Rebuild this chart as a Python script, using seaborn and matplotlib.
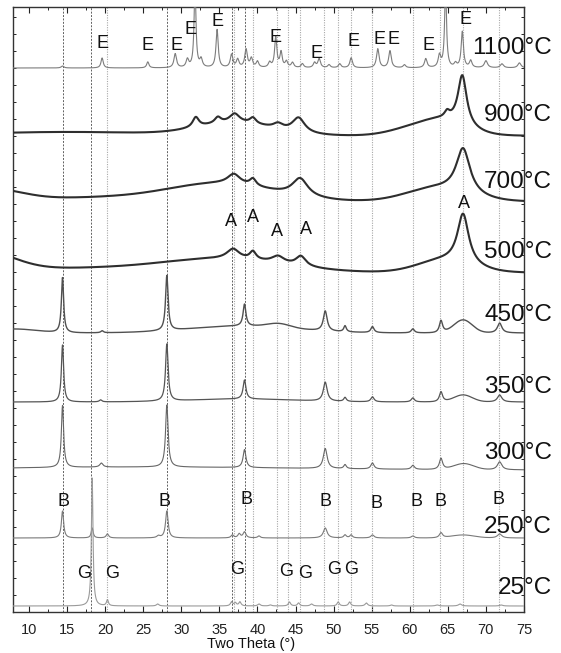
import numpy as np
import pandas as pd
import matplotlib
matplotlib.use("Agg")
import matplotlib.pyplot as plt
from matplotlib.ticker import MultipleLocator
import seaborn as sns

# ---------------- data ----------------
temps = ["1100°C", "900°C", "700°C", "500°C", "450°C", "350°C", "300°C", "250°C", "25°C"]
offsets = [544, 476, 410, 339, 279, 210, 142, 74, 6]
label_y = [564, 497, 430, 360, 297, 225, 159, 85, 24]
colors = ["#7d7d7d", "#2e2e2e", "#2e2e2e", "#2e2e2e", "#505050", "#555555", "#666666", "#7a7a7a", "#9a9a9a"]
widths = [0.8, 1.5, 1.5, 1.5, 1.0, 0.9, 0.8, 0.8, 0.8]

# sharp reflections: (2theta, height, fwhm)
peaks_1100 = [(14.4, 2, 0.4), (19.6, 10, 0.35), (25.6, 6, 0.35), (29.2, 14, 0.4), (30.8, 8, 0.4),
              (31.8, 80, 0.3), (32.6, 8, 0.4), (34.7, 38, 0.35), (36.6, 13, 0.4), (37.4, 8, 0.4),
              (38.5, 18, 0.4), (39.2, 9, 0.4), (40.0, 6, 0.4), (41.6, 5, 0.4), (42.4, 30, 0.35),
              (43.1, 15, 0.35), (43.8, 6, 0.4), (44.6, 5, 0.4), (45.9, 4, 0.4), (47.5, 5, 0.4),
              (48.1, 9, 0.4), (49.4, 3, 0.4), (50.8, 4, 0.4), (52.3, 10, 0.4), (55.8, 19, 0.4),
              (57.4, 17, 0.4), (59.3, 3, 0.4), (62.1, 9, 0.4), (63.9, 12, 0.4), (64.7, 80, 0.3),
              (66.0, 4, 0.4), (66.9, 36, 0.35), (68.0, 7, 0.4), (70.0, 7, 0.5), (72.1, 4, 0.5),
              (74.4, 5, 0.5)]
peaks_900 = [(31.9, 10, 1.0), (34.8, 6, 1.0), (37.0, 9, 1.6), (39.4, 6, 1.0), (42.7, 5, 1.5),
             (45.4, 15, 2.0), (64.9, 6, 0.8), (66.9, 50, 1.4)]
peaks_700 = [(36.9, 10, 2.0), (39.4, 7, 1.0), (45.6, 18, 2.5), (67.0, 45, 2.2)]
peaks_500 = [(36.8, 10, 2.0), (39.4, 8, 1.0), (42.7, 7, 2.0), (45.7, 10, 1.6), (67.0, 50, 1.8)]
peaks_450 = [(14.4, 55, 0.35), (19.6, 2, 0.4), (28.1, 55, 0.4), (38.3, 22, 0.45), (48.9, 20, 0.6),
             (51.5, 6, 0.4), (55.1, 6, 0.5), (60.4, 4, 0.5), (64.1, 12, 0.5), (71.8, 10, 0.7)]
peaks_350 = [(14.4, 57, 0.35), (19.4, 2, 0.4), (28.1, 57, 0.4), (38.3, 19, 0.45), (48.9, 19, 0.6),
             (51.5, 4, 0.4), (55.1, 5, 0.5), (60.4, 4, 0.5), (64.1, 10, 0.5), (71.8, 7, 0.7)]
peaks_300 = [(14.4, 62, 0.35), (19.5, 4, 0.5), (28.1, 62, 0.4), (38.3, 18, 0.45), (48.9, 20, 0.6),
             (51.5, 4, 0.4), (55.1, 6, 0.5), (60.4, 4, 0.5), (64.1, 11, 0.5), (71.8, 8, 0.7)]
peaks_250 = [(14.4, 27, 0.35), (18.3, 10, 0.3), (20.3, 4, 0.4), (27.0, 2, 0.5), (28.1, 27, 0.4),
             (36.7, 3, 0.4), (37.6, 4, 0.4), (38.3, 6, 0.45), (40.2, 2, 0.4), (48.9, 10, 0.6),
             (51.5, 3, 0.4), (52.3, 3, 0.4), (55.1, 3, 0.5), (60.4, 2, 0.5), (64.1, 5, 0.5),
             (71.8, 4, 0.7)]
peaks_25 = [(18.3, 128, 0.25), (20.3, 6, 0.3), (26.9, 2, 0.4), (36.6, 4, 0.35), (37.1, 3, 0.35),
            (37.7, 4, 0.35), (40.2, 2, 0.4), (41.7, 1, 0.4), (44.2, 4, 0.35), (45.4, 3, 0.35),
            (47.1, 2, 0.4), (50.6, 4, 0.35), (52.1, 4, 0.35), (54.3, 3, 0.4), (57.6, 1, 0.4),
            (63.6, 1, 0.5), (66.6, 2, 0.5), (72.0, 1, 0.5)]

# broad amorphous humps: (2theta centre, height, sigma)
humps_1100 = []
humps_900 = [(15, 4, 12), (37, 12, 5), (60, 6, 3), (64.5, 14, 3)]
humps_700 = [(5, 12, 4), (18, 4, 8), (35, 18, 7), (63.5, 13, 4)]
humps_500 = [(4, 20, 4), (15, 4, 8), (35, 14, 8.5), (64.5, 12, 3.5)]
humps_450 = [(8, 4, 3), (38, 7, 7), (42.8, 4, 1.5), (67.0, 13, 1.2)]
humps_350 = [(38, 3, 7), (67.0, 7, 1.2)]
humps_300 = [(25, 3, 20), (67.1, 6, 1.3)]
humps_250 = [(67.0, 3, 1.5)]
humps_25 = []

all_peaks = [peaks_1100, peaks_900, peaks_700, peaks_500, peaks_450, peaks_350, peaks_300, peaks_250, peaks_25]
all_humps = [humps_1100, humps_900, humps_700, humps_500, humps_450, humps_350, humps_300, humps_250, humps_25]

# phase marker labels: (2theta, vertical position)
E_pos = [19.7, 25.6, 29.4, 31.2, 34.8, 42.4, 47.8, 52.6, 56.0, 57.8, 62.4, 67.3]
E_y = [569, 566, 567, 582, 590, 575, 559, 570, 573, 573, 567, 593]
A_pos = [36.5, 39.4, 42.6, 46.4, 67.1]
A_y = [391, 395, 380, 383, 409]
B_pos = [14.5, 27.8, 38.5, 49.0, 55.6, 60.9, 64.1, 71.6]
B_y = [110, 110, 112, 110, 108, 110, 110, 112]
G_pos = [17.3, 20.9, 37.3, 43.8, 46.2, 50.1, 52.3]
G_y = [39, 39, 42, 40, 39, 43, 43]

ref_dark = [14.4, 18.1, 28.1, 36.7, 38.3]
ref_light = [20.3, 36.9, 39.4, 42.6, 44.0, 45.6, 48.8, 50.6, 52.3, 55.1, 60.4, 64.0, 67.0, 71.7]

# ---------------- build patterns ----------------
tt = np.arange(7.9, 75.0001, 0.02)
frames = []
for name, off, pk, hm in zip(temps, offsets, all_peaks, all_humps):
    y = np.full_like(tt, float(off))
    for c, h, w in pk:
        y += h / (1.0 + ((tt - c) / (w / 2.0)) ** 2)
    for c, h, s in hm:
        y += h * np.exp(-((tt - c) ** 2) / (2 * s * s))
    frames.append(pd.DataFrame({"tt": tt, "I": y, "T": name}))
df = pd.concat(frames, ignore_index=True)

# ---------------- plot ----------------
sns.set_style("ticks")
plt.rcParams["font.family"] = ["Liberation Sans", "DejaVu Sans"]

fig = plt.figure(figsize=(5.61, 6.53), dpi=100)
ax = fig.add_axes([13 / 561, 41 / 653, 511 / 561, 605 / 653])

for xv in ref_light:
    ax.axvline(xv, color="#a8a8a8", lw=0.8, ls=(0, (1, 1.2)), zorder=1)
for xv in ref_dark:
    ax.axvline(xv, color="#606060", lw=0.7, ls=(0, (2, 1.5)), zorder=1)

for name, col, lw in zip(temps, colors, widths):
    sub = df[df["T"] == name]
    sns.lineplot(data=sub, x="tt", y="I", color=col, lw=lw, ax=ax,
                 estimator=None, sort=False, legend=False, zorder=3)

ax.set_xlim(7.9, 75.0)
ax.set_ylim(0, 605)

for name, yy in zip(temps, label_y):
    ax.text((552 - 13) / 511, yy, name, transform=ax.get_yaxis_transform(),
            ha="right", va="center", fontsize=17.5, color="#111111", clip_on=False, zorder=5)

for letter, xs, ys in (("E", E_pos, E_y), ("A", A_pos, A_y), ("B", B_pos, B_y), ("G", G_pos, G_y)):
    for xv, yv in zip(xs, ys):
        ax.text(xv, yv, letter, ha="center", va="center", fontsize=13, color="#111111", zorder=5)

ax.xaxis.set_major_locator(MultipleLocator(5))
ax.xaxis.set_minor_locator(MultipleLocator(2.5))
ax.yaxis.set_major_locator(MultipleLocator(17))
ax.tick_params(axis="x", which="major", direction="in", top=True, bottom=True, length=4.5,
               width=0.8, labelsize=10.5, pad=8, colors="#222222")
ax.tick_params(axis="x", which="minor", direction="in", top=True, bottom=True, length=2.2, width=0.7)
ax.tick_params(axis="y", which="major", direction="in", left=True, right=True, length=2.2,
               width=0.7, labelleft=False)
ax.set_ylabel("")
ax.set_xlabel("Two Theta (°)", fontsize=10.5, color="#111111")
ax.xaxis.set_label_coords((251 - 13) / 511, -0.0415)
for sp in ax.spines.values():
    sp.set_visible(True)
    sp.set_color("#333333")
    sp.set_linewidth(1.0)

fig.savefig("out.png", dpi=100)
